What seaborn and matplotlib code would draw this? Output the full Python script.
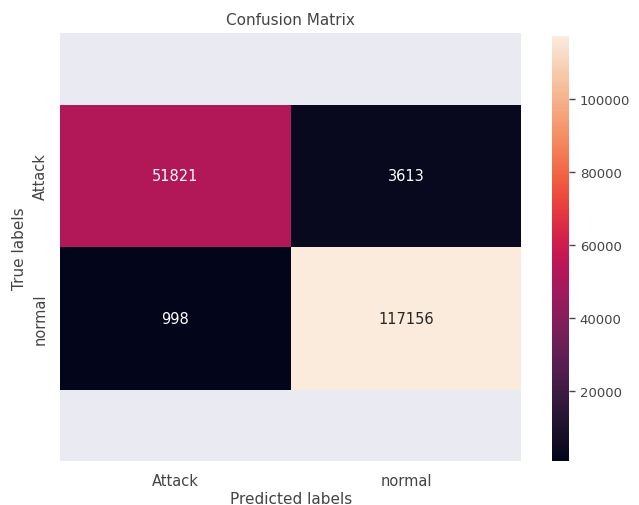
import numpy as np
import pandas as pd
import matplotlib
matplotlib.use("Agg")
import matplotlib.pyplot as plt
import seaborn as sns

labels = ["Attack", "normal"]
attack_row = [51821, 3613]
normal_row = [998, 117156]

cm = pd.DataFrame([attack_row, normal_row], index=labels, columns=labels)

sns.set_theme(style="darkgrid")
text_col = "#444444"
plt.rcParams.update({
    "text.color": text_col,
    "axes.labelcolor": text_col,
    "xtick.color": text_col,
    "ytick.color": text_col,
})

fig = plt.figure(figsize=(6.39, 5.06), dpi=100)
ax = fig.add_axes([0.094, 0.087, 0.722, 0.845])
cax = fig.add_axes([0.864, 0.087, 0.027, 0.84])

sns.heatmap(cm, annot=True, fmt="g", ax=ax, cbar_ax=cax,
            annot_kws={"fontsize": 10.5})

ax.grid(False)
ax.set_ylim(2.5, -0.5)
ax.set_title("Confusion Matrix", fontsize=11, pad=7)
ax.set_xlabel("Predicted labels", fontsize=11, labelpad=2)
ax.set_ylabel("True labels", fontsize=11, labelpad=4)
ax.tick_params(axis="x", labelsize=10.5, pad=9, length=0)
ax.tick_params(axis="y", labelsize=10.5, pad=9, length=0)
ax.set_yticklabels(labels, rotation=90, va="center")

cax.tick_params(labelsize=9.5, length=4, width=1, color=text_col)

fig.savefig("out.png", dpi=100)
